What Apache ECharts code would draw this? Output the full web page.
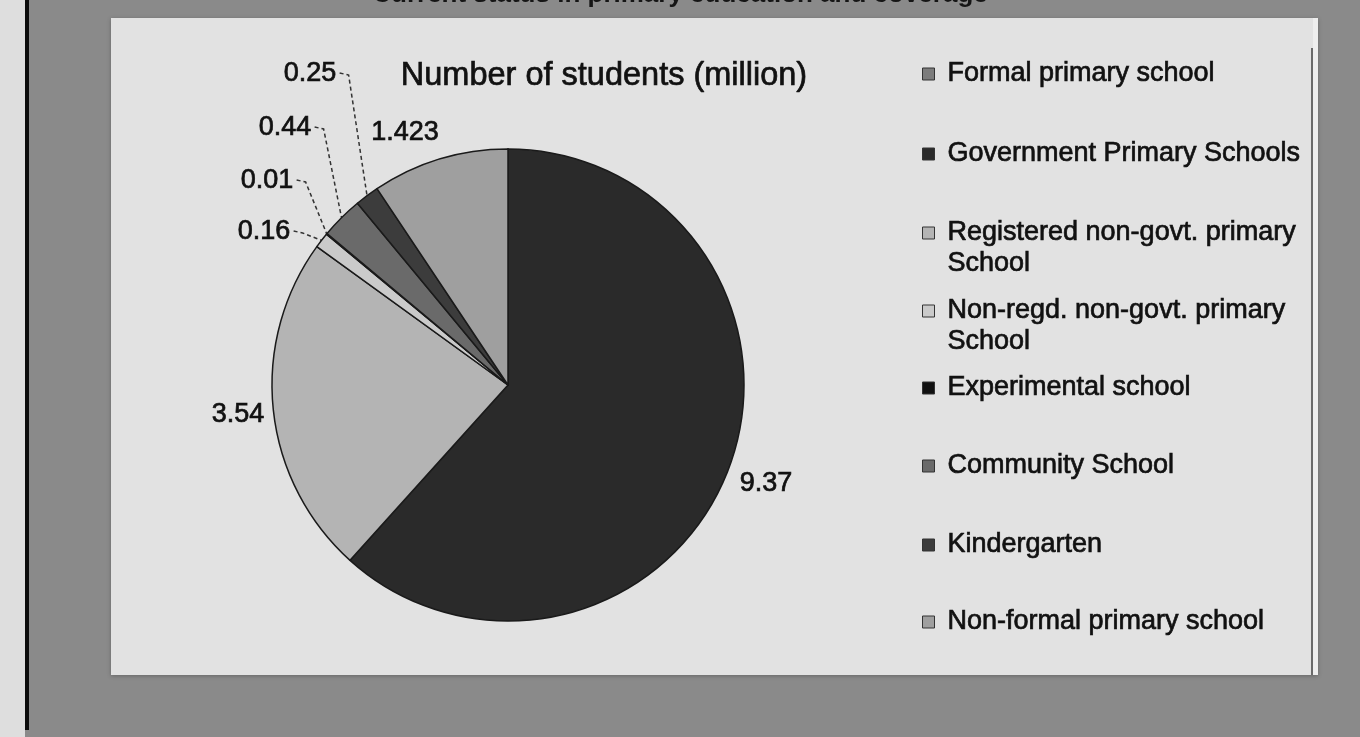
<!DOCTYPE html>
<html>
<head>
<meta charset="utf-8">
<script src="https://cdn.jsdelivr.net/npm/echarts@6/dist/echarts.min.js"></script>
<style>
html,body{margin:0;padding:0;background:#8a8a8a;}
#c{width:1360px;height:737px;}
</style>
</head>
<body>
<div id="c"></div>
<script>
// ---- data ----
var categories = [
  'Formal primary school',
  'Government Primary Schools',
  'Registered non-govt. primary School',
  'Non-regd. non-govt. primary School',
  'Experimental school',
  'Community School',
  'Kindergarten',
  'Non-formal primary school'
];
var values = [0, 9.37, 3.54, 0.16, 0.01, 0.44, 0.25, 1.423];
var valueLabels = ['', '9.37', '3.54', '0.16', '0.01', '0.44', '0.25', '1.423'];
var chartTitle = 'Number of students (million)';
var pageTitle = 'Current status in primary education and coverage';

// ---- styles ----
var colors = ['#7c7c7c', '#2a2a2a', '#b4b4b4', '#cacaca', '#111111', '#6a6a6a', '#3c3c3c', '#9f9f9f'];
var legendColors = ['#7c7c7c', '#2a2a2a', '#c8c8c8', '#b8b8b8', '#151515', '#707070', '#4a4a4a', '#c2c2c2'];
// label centre positions (layout only)
var labelPos = [null, [766, 484], [238, 415], [264, 232], [267, 181], [285, 128], [310, 74], [405, 133]];
var hasLeader = [false, false, false, true, true, true, true, false];
var legendTop = [74, 154, 233, 311, 388, 466, 545, 622];
var twoLine = [false, false, true, true, false, false, false, false];

var chart = echarts.init(document.getElementById('c'), null, {renderer: 'canvas'});

var FONT = '"Liberation Sans", Arial, sans-serif';
var LFS = 27;   // legend font size
var LLH = 31;   // legend line height
var SQ = 12;

var legends = categories.map(function (name, i) {
  var two = twoLine[i];
  return {
    show: true,
    orient: 'vertical',
    left: 922,
    top: legendTop[i] - LLH / 2,
    data: [{
      name: name,
      icon: two ? 'path://M0,0h' + SQ + 'v' + SQ + 'h-' + SQ + 'z M0,' + (SQ + LLH) : 'rect'
    }],
    itemWidth: SQ,
    itemHeight: two ? SQ + LLH : SQ,
    itemGap: 0,
    selectedMode: false,
    padding: 0,
    itemStyle: {borderColor: '#333', borderWidth: 1},
    formatter: function (n) {
      return n.replace(' primary School', ' primary\nSchool');
    },
    textStyle: {
      fontFamily: FONT,
      fontSize: LFS,
      lineHeight: LLH,
      color: '#111',
      textBorderColor: '#111',
      textBorderWidth: 0.7,
      padding: [0, 0, 0, 8]
    }
  };
});

var pieData = categories.map(function (name, i) {
  var item = {
    name: name,
    value: values[i],
    itemStyle: {color: colors[i]}
  };
  if (!labelPos[i]) {
    item.label = {show: false};
    item.labelLine = {show: false};
  } else {
    item.labelLine = {show: hasLeader[i]};
  }
  return item;
});

var option = {
  backgroundColor: '#8a8a8a',
  animation: false,
  color: legendColors,
  graphic: [
    {type: 'rect', left: 0, top: 0, shape: {width: 25, height: 737}, style: {fill: '#dedede'}, z: -10},
    {type: 'rect', left: 25, top: 0, shape: {width: 4, height: 730}, style: {fill: '#0c0c0c'}, z: -9},
    {type: 'rect', left: 111, top: 18, shape: {width: 1207, height: 657},
      style: {fill: '#e2e2e2', shadowBlur: 4, shadowColor: 'rgba(0,0,0,0.25)', shadowOffsetY: 1}, z: -8},
    {type: 'rect', left: 1313, top: 18, shape: {width: 5, height: 657}, style: {fill: '#eeeeee'}, z: -7},
    {type: 'rect', left: 1311, top: 48, shape: {width: 2, height: 627}, style: {fill: '#6a6a6a'}, z: -6},
    {type: 'text', left: 'center', top: -18,
      style: {text: pageTitle, fontFamily: FONT, fontSize: 26, fontWeight: 'bold', fill: '#151515'}, z: 5}
  ],
  title: {
    text: chartTitle,
    left: 599,
    top: 55,
    textAlign: 'center',
    textStyle: {fontFamily: FONT, fontSize: 32.5, fontWeight: 'normal', color: '#111',
      textBorderColor: '#111', textBorderWidth: 0.7}
  },
  legend: legends,
  series: [{
    type: 'pie',
    center: [508, 385],
    radius: [0, 236],
    startAngle: 90,
    clockwise: true,
    avoidLabelOverlap: false,
    minAngle: 0,
    stillShowZeroSum: true,
    data: pieData,
    itemStyle: {borderColor: '#1a1a1a', borderWidth: 1.5},
    emphasis: {disabled: true},
    label: {
      show: true,
      position: 'outside',
      fontFamily: FONT,
      fontSize: 27,
      color: '#111',
      textBorderColor: '#111',
      textBorderWidth: 0.7,
      formatter: function (p) { return valueLabels[p.dataIndex]; }
    },
    labelLine: {
      show: true,
      length: 10,
      length2: 10,
      lineStyle: {color: '#333', width: 1.5, type: [4, 3]}
    },
    labelLayout: function (p) {
      var pos = labelPos[p.dataIndex];
      if (!pos) return {};
      var res = {x: pos[0], y: pos[1], align: 'center', verticalAlign: 'middle'};
      if (hasLeader[p.dataIndex] && p.labelLinePoints) {
        var anchor = p.labelLinePoints[0];
        var w = p.labelRect.width;
        var sx = pos[0] + w / 2 + 3;
        var sy = pos[1] - 1;
        res.labelLinePoints = [[sx, sy], [sx + 9, sy + 2], [anchor[0], anchor[1]]];
      }
      return res;
    }
  }]
};
chart.setOption(option);
</script>
</body>
</html>
